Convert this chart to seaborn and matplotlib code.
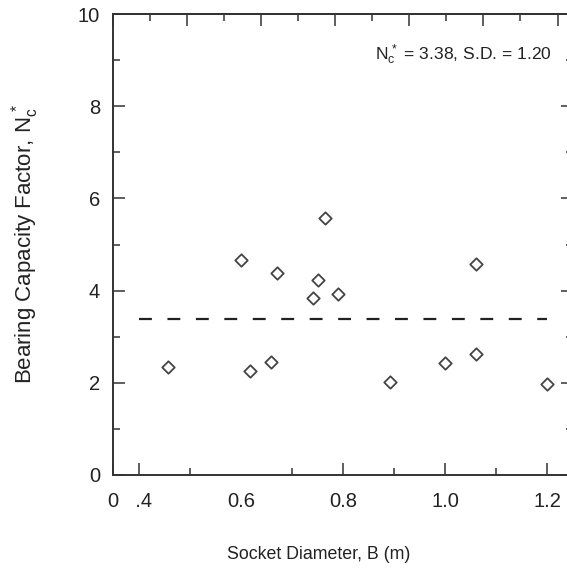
import matplotlib
matplotlib.use("Agg")
import matplotlib.pyplot as plt
import seaborn as sns
import pandas as pd
from matplotlib.ticker import FixedLocator, MultipleLocator

# Measured socket diameters and back-calculated bearing capacity factors
socket_diameter_m = [0.458, 0.600, 0.619, 0.659, 0.670, 0.742, 0.751,
                     0.764, 0.791, 0.891, 1.000, 1.061, 1.061, 1.200]
bearing_factor = [2.35, 4.66, 2.26, 2.46, 4.39, 3.85, 4.23,
                  5.57, 3.93, 2.01, 2.42, 2.62, 4.57, 1.97]

mean_nc = 3.38
std_nc = 1.20
mean_line_span = (0.4, 1.2)

x_limits = (0.35, 1.25)
x_ticks = [0.35, 0.4, 0.6, 0.8, 1.0, 1.2]
x_tick_labels = ["0", "  .4", "0.6", "0.8", "1.0", "1.2"]
x_minor_ticks = [0.5, 0.7, 0.9, 1.1]
y_ticks = [0, 2, 4, 6, 8, 10]
y_tick_labels = ["0", "2", "4", "6", "8", "10"]

sns.set_theme(style="ticks")
plt.rcParams["font.family"] = ["Liberation Sans", "DejaVu Sans"]
plt.rcParams["mathtext.fontset"] = "custom"
plt.rcParams["mathtext.rm"] = "Liberation Sans"
plt.rcParams["mathtext.it"] = "Liberation Sans"
plt.rcParams["text.color"] = "#222222"

ink = "#333333"

fig = plt.figure(figsize=(5.67, 5.71), dpi=100)
ax = fig.add_axes([113 / 567, 96 / 571, 460 / 567, 461 / 571])

df = pd.DataFrame({"B": socket_diameter_m, "Nc": bearing_factor})
sns.scatterplot(data=df, x="B", y="Nc", marker="D", s=40, color="white",
                edgecolor="#444444", linewidth=1.3, ax=ax, zorder=3, legend=False)

ax.hlines(mean_nc, *mean_line_span, colors="#222222", linewidth=1.6,
          linestyles=(0, (5.8, 7.0)), zorder=2)

ax.set_xlim(*x_limits)
ax.set_ylim(0, 10)

ax.xaxis.set_major_locator(FixedLocator(x_ticks))
ax.set_xticklabels(x_tick_labels)
ax.xaxis.set_minor_locator(FixedLocator(x_minor_ticks))
ax.set_yticks(y_ticks)
ax.set_yticklabels(y_tick_labels)
ax.yaxis.set_minor_locator(MultipleLocator(1))

ax.tick_params(which="both", direction="in", color=ink, width=1.1,
               left=True, right=True, top=False, bottom=True,
               labelcolor="#222222", labelsize=14.5)
ax.tick_params(which="major", length=8.6)
ax.tick_params(which="minor", length=5.0)
ax.tick_params(axis="x", which="major", pad=12.5)
ax.tick_params(axis="y", which="major", pad=9.4)
# no tick mark under the 0.6 label
ax.xaxis.get_major_ticks()[2].tick1line.set_visible(False)

for side in ["left", "right", "top", "bottom"]:
    ax.spines[side].set_color(ink)
    ax.spines[side].set_linewidth(1.4)

# independent tick scale along the top edge
top_step = 74 / 510.5
sec = ax.secondary_xaxis("top", functions=(lambda x: (x - x_limits[0]) / top_step,
                                           lambda t: x_limits[0] + t * top_step))
sec.xaxis.set_major_locator(MultipleLocator(1))
sec.xaxis.set_minor_locator(MultipleLocator(0.5))
sec.tick_params(which="both", direction="in", color=ink, width=1.1,
                labeltop=False, labelbottom=False)
sec.tick_params(which="major", length=8.6)
sec.tick_params(which="minor", length=5.0)
sec.spines["top"].set_color(ink)
sec.spines["top"].set_linewidth(1.4)

ax.set_xlabel("Socket Diameter, B (m)", fontsize=12.8, color="#222222")
ax.set_ylabel(r"Bearing Capacity Factor, $\mathregular{N_c^{\,*}}$",
              fontsize=16, color="#222222")
ax.xaxis.set_label_coords(0.448, -0.154)
ax.yaxis.set_label_coords(-0.157, 0.5)

ax.text(0.954, 0.900,
        f"$\\mathregular{{N_c^{{\\,*}}}}$ = {mean_nc:.2f}, S.D. = {std_nc:.2f}",
        transform=ax.transAxes, ha="right", va="baseline", fontsize=12.6,
        color="#222222")

fig.savefig("out.png", dpi=100)
